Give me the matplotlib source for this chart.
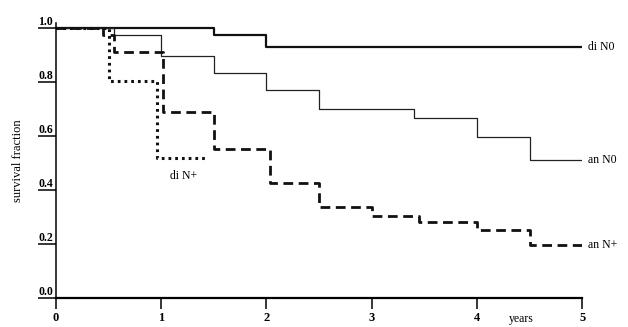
import matplotlib
matplotlib.use("Agg")
import matplotlib.pyplot as plt

# survival curves (years, survival fraction)
t_di_n0 = [0, 1.5, 2.0, 5.0]
s_di_n0 = [1.0, 0.975, 0.93, 0.93]

t_an_n0 = [0, 0.55, 1.0, 1.5, 2.0, 2.5, 3.4, 4.0, 4.5, 5.0]
s_an_n0 = [1.0, 0.975, 0.895, 0.835, 0.77, 0.70, 0.665, 0.595, 0.51, 0.51]

t_an_np = [0, 0.45, 0.55, 1.02, 1.5, 2.03, 2.5, 3.0, 3.45, 4.0, 4.5, 5.0]
s_an_np = [1.0, 0.975, 0.91, 0.69, 0.55, 0.425, 0.335, 0.305, 0.28, 0.25, 0.195, 0.195]

t_di_np = [0, 0.5, 0.96, 1.43]
s_di_np = [1.0, 0.805, 0.52, 0.52]

xticks = [0, 1, 2, 3, 4, 5]
yticks = [0.0, 0.2, 0.4, 0.6, 0.8, 1.0]
ylabels = ["0.0", "0.2", "0.4", "0.6", "0.8", "1.0"]

plt.rcParams["font.family"] = ["Liberation Serif", "DejaVu Serif"]

fig = plt.figure(figsize=(6.28, 3.27), dpi=100)
ax = fig.add_axes([0.089, 0.089, 0.838, 0.842])

ax.step(t_di_n0, s_di_n0, where="post", color="#111", lw=1.6)
ax.step(t_an_n0, s_an_n0, where="post", color="#222", lw=0.9)
ax.step(t_an_np, s_an_np, where="post", color="#111", lw=2.0,
        linestyle=(0, (3.5, 2.0)))
ax.step(t_di_np, s_di_np, where="post", color="#111", lw=2.2,
        linestyle=(0, (0.9, 1.3)))

ax.set_xlim(0, 5)
ax.set_ylim(0, 1.02)
for sp in ["top", "right"]:
    ax.spines[sp].set_visible(False)
ax.spines["left"].set_linewidth(1.1)
ax.spines["bottom"].set_linewidth(1.6)

ax.set_xticks(xticks)
ax.set_xticklabels([str(v) for v in xticks], fontsize=9, fontweight="bold")
ax.tick_params(axis="x", direction="out", length=8, width=1.1, pad=2)

ax.set_yticks(yticks)
ax.set_yticklabels(ylabels, fontsize=8.5, va="bottom", fontweight="bold")
ax.tick_params(axis="y", direction="out", length=13, width=1.1, pad=-11)

ax.set_ylabel("survival fraction", fontsize=9, labelpad=10)

ax.text(5.06, 0.93, "di N0", fontsize=8.5, va="center", ha="left", clip_on=False)
ax.text(5.06, 0.51, "an N0", fontsize=8.5, va="center", ha="left", clip_on=False)
ax.text(5.06, 0.195, "an N+", fontsize=8.5, va="center", ha="left", clip_on=False)
ax.text(1.21, 0.45, "di N+", fontsize=8.5, va="center", ha="center")
ax.text(4.42, -0.077, "years", fontsize=8.5, va="center", ha="center", clip_on=False)

fig.savefig("out.png", dpi=100)
